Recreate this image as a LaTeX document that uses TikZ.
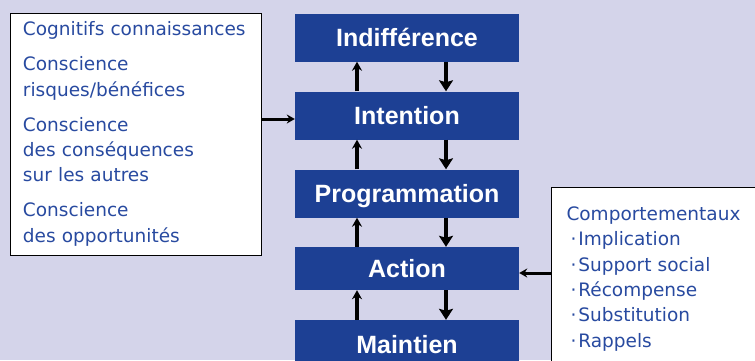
\documentclass[tikz,border=0pt]{standalone}
\usepackage{fontspec}
\setmainfont{DejaVu Sans}
\newfontfamily\stagefont{Liberation Sans}
\usetikzlibrary{arrows.meta}
\definecolor{lavbg}{RGB}{212,212,234}
\definecolor{stageblue}{RGB}{29,64,148}
\definecolor{inkblue}{RGB}{40,74,160}

\begin{document}
\begin{tikzpicture}
[x=1pt,y=-1pt,
 stage/.style={fill=stageblue,text=white,minimum width=224pt,minimum height=48pt,
   inner sep=0pt,text height=18pt,text depth=0pt,
   font=\stagefont\bfseries\fontsize{25}{25}\selectfont},
 rise/.style={draw=black,line width=3.5pt,arrows={-Stealth[length=9pt,width=10pt]}},
 fall/.style={draw=black,line width=3.5pt,arrows={-Stealth[length=11pt,width=14pt,inset=2pt]}},
 feed/.style={draw=black,line width=3pt,arrows={-Stealth[length=8pt,width=9pt]}},
 listbox/.style={draw=black,line width=1pt,fill=white,text=inkblue,align=left,
   font=\fontsize{18.5}{25.4}\selectfont}]
\useasboundingbox (0,0) rectangle (755,360);
\fill[lavbg] (0,0) rectangle (755,360);
\clip (0,0) rectangle (755,360);

\node[listbox,text width=225pt,inner xsep=13pt,inner ysep=0pt,minimum height=242pt] (know)
  at (135.5,134) {Cognitifs connaissances\\[9.5pt]Conscience\\risques/bénéfices\\[9.5pt]%
  Conscience\\des conséquences\\sur les autres\\[9.5pt]Conscience\\des opportunités};

\node[stage] (ind) at (407,37.5) {Indifférence};
\node[stage] (int) at (407,115.5) {Intention};
\node[stage] (prog) at (407,193.5) {Programmation};
\node[stage,minimum height=43pt] (act) at (407,268.5) {Action};
\node[stage] (maint) at (407,344) {Maintien};

\node[listbox,anchor=north west,text width=230pt,inner xsep=15pt,inner ysep=19pt] (behav)
  at (551,187) {Comportementaux\\
  \hspace*{4pt}·\hspace{2pt}Implication\\
  \hspace*{4pt}·\hspace{2pt}Support social\\
  \hspace*{4pt}·\hspace{2pt}Récompense\\
  \hspace*{4pt}·\hspace{2pt}Substitution\\
  \hspace*{4pt}·\hspace{2pt}Rappels};

\foreach \a/\b in {ind/int,int/prog,prog/act,act/maint}
{
  \draw[fall] ([xshift=39pt]\a.south) -- ([xshift=39pt]\b.north);
  \draw[rise] ([xshift=-50pt]\b.north) -- ([xshift=-50pt]\a.south);
}

\coordinate (feedin) at ([yshift=-3.5pt]int.west);
\coordinate (behin) at ([yshift=-4.5pt]act.east);
\draw[feed] (know.east |- feedin) -- (feedin);
\draw[feed] (behav.west |- behin) -- (behin);

\end{tikzpicture}
\end{document}
